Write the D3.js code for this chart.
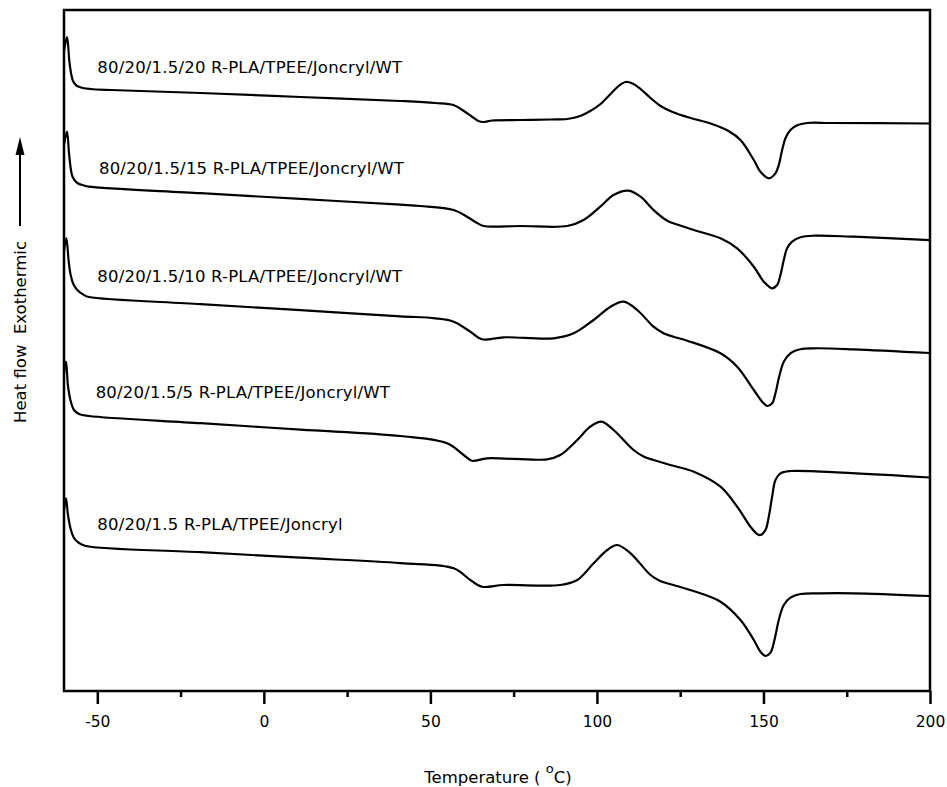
<!DOCTYPE html>
<html><head><meta charset="utf-8">
<script src="https://cdn.jsdelivr.net/npm/d3@7"></script>
<style>body{margin:0;background:#fff}svg{display:block}</style>
</head><body>
<svg id="chart" width="947" height="787"></svg>
<script>
// ---- data (temperature °C, heat flow in arbitrary units, exotherm up) ----
const xTicks = [-50, 0, 50, 100, 150, 200];
const xMinorTicks = [-25, 25, 75, 125, 175];
const xTitle = "Temperature ( ";
const yTitle = "Heat flow\u00A0 Exothermic";

const seriesNames = [
  "80/20/1.5/20 R-PLA/TPEE/Joncryl/WT",
  "80/20/1.5/15 R-PLA/TPEE/Joncryl/WT",
  "80/20/1.5/10 R-PLA/TPEE/Joncryl/WT",
  "80/20/1.5/5 R-PLA/TPEE/Joncryl/WT",
  "80/20/1.5 R-PLA/TPEE/Joncryl"
];
// label anchor [T, heat flow]
const labelPos = [[-50, 61.77], [-49.5, 51.7], [-50, 40.93], [-50.5, 29.3], [-50, 16.1]];

const wt20 = [[-60,64.0],[-59.1,65.4],[-58.4,63.0],[-57.9,61.8],[-57.3,61.0],[-56.3,60.55],[-54.3,60.3],[-52.0,60.2],[-46.0,60.1],[-19.0,59.8],[11.0,59.4],[41.0,59.0],[51.5,58.8],[56.9,58.6],[59.6,58.1],[62.6,57.4],[64.4,57.0],[65.9,56.9],[68.6,57.05],[77.0,57.1],[86.0,57.15],[91.1,57.2],[95.0,57.5],[98.0,58.0],[101.1,58.7],[104.1,59.7],[106.5,60.5],[108.6,60.9],[110.7,60.75],[113.1,60.2],[116.1,59.3],[119.1,58.5],[122.7,57.9],[128.1,57.3],[134.1,56.75],[139.5,56.0],[143.1,55.1],[147.1,53.1],[149.1,51.93],[151.6,51.27],[153.6,51.77],[154.6,52.6],[155.6,54.1],[156.6,55.27],[158.1,56.1],[160.1,56.57],[163.1,56.8],[170.1,56.8],[200,56.75]];

const wt15 = [[-60,54.6],[-59.1,55.93],[-58.5,53.8],[-58.0,52.3],[-57.4,51.4],[-56.0,50.8],[-54.0,50.55],[-52.6,50.43],[-19.0,49.78],[11.0,49.21],[41.0,48.63],[47.0,48.5],[57.0,48.1],[61.0,47.43],[63.8,46.85],[66.0,46.5],[77.0,46.5],[91.1,46.5],[96.0,47.1],[101.0,48.43],[105.0,49.6],[109.5,50.03],[113.1,49.43],[117.0,48.1],[121.1,47.03],[125.0,46.55],[129.1,46.1],[137.1,45.27],[142.1,44.27],[147.1,42.43],[150.1,40.93],[152.6,40.27],[154.1,40.6],[155.1,41.6],[156.1,43.1],[157.1,44.27],[158.6,44.93],[161.1,45.37],[165.1,45.53],[177.1,45.43],[200,45.08]];

const wt10 = [[-60,44.0],[-59.3,45.3],[-58.6,43.0],[-58.0,41.6],[-57.2,40.7],[-56.0,40.1],[-54.0,39.6],[-52.5,39.4],[-19.0,38.69],[11.0,38.08],[41.0,37.47],[51.5,37.27],[57.0,36.93],[62.0,35.93],[65.5,35.17],[72.0,35.37],[87.0,35.27],[93.0,35.77],[99.0,37.1],[104.1,38.43],[108.0,38.93],[112.1,38.1],[117.0,36.43],[120.0,35.77],[123.0,35.43],[127.1,35.03],[137.1,33.77],[142.1,32.43],[147.1,30.1],[149.6,28.93],[151.1,28.5],[152.6,28.77],[153.6,29.77],[154.6,31.27],[156.1,32.93],[158.1,33.77],[161.1,34.17],[165.1,34.27],[177.1,34.17],[200,33.8]];

const wt5 = [[-60,31.7],[-59.4,32.93],[-58.8,30.5],[-58.0,29.0],[-57.0,28.1],[-55.5,27.7],[-52.5,27.5],[-19.0,26.78],[11.0,26.14],[41.0,25.5],[55.0,24.77],[60.0,23.6],[62.5,23.03],[67.0,23.27],[85.0,23.17],[89.0,23.6],[94.1,25.1],[98.0,26.43],[101.4,26.93],[105.0,26.1],[111.0,24.1],[114.0,23.45],[117.0,23.1],[122.0,22.6],[129.1,21.93],[137.1,20.43],[142.1,18.43],[146.1,16.43],[148.1,15.7],[149.1,15.6],[150.6,16.1],[151.6,17.43],[152.6,19.43],[153.6,21.1],[155.1,21.77],[158.1,22.0],[167.1,21.93],[200,21.35]];

const wt0 = [[-60,18.0],[-59.4,19.27],[-58.8,17.6],[-58.0,16.2],[-57.0,15.3],[-55.5,14.8],[-53.5,14.5],[-19.0,13.88],[11.0,13.33],[41.0,12.79],[57.0,12.27],[62.0,11.1],[65.5,10.43],[72.0,10.6],[89.0,10.6],[94.1,11.1],[99.0,12.77],[103.1,14.1],[106.1,14.6],[110.1,13.77],[116.1,11.6],[119.0,11.0],[123.0,10.6],[128.0,10.1],[137.1,8.93],[143.1,7.1],[147.1,5.1],[149.1,3.93],[150.6,3.5],[152.1,3.83],[153.3,5.1],[154.6,7.1],[156.1,8.6],[158.1,9.33],[161.1,9.7],[167.1,9.77],[177.1,9.77],[200,9.5]];

const seriesData = [wt20, wt15, wt10, wt5, wt0];

// ---- layout ----
const svg = d3.select("#chart");
const W = 947, H = 787;
const m = {left: 64, top: 10, right: 17, bottom: 96};
const iw = W - m.left - m.right, ih = H - m.top - m.bottom;

const x = d3.scaleLinear().domain([-60, 200]).range([m.left, m.left + iw]);
const y = d3.scaleLinear().domain([0, 68.1]).range([m.top + ih, m.top]);

const font = "'DejaVu Sans', Verdana, sans-serif";

svg.append("defs").append("clipPath").attr("id", "clip")
  .append("rect").attr("x", m.left).attr("y", m.top).attr("width", iw).attr("height", ih);

// curves
const line = d3.line().x(d => x(d[0])).y(d => y(d[1])).curve(d3.curveCatmullRom.alpha(0.5));
svg.append("g").attr("clip-path", "url(#clip)")
  .selectAll("path").data(seriesData).join("path")
  .attr("d", line).attr("fill", "none").attr("stroke", "#000")
  .attr("stroke-width", 2.2).attr("stroke-linejoin", "round");

// series labels
svg.append("g").selectAll("text").data(seriesNames).join("text")
  .attr("x", (d, i) => x(labelPos[i][0])).attr("y", (d, i) => y(labelPos[i][1]))
  .attr("font-family", font).attr("font-size", 16.5).attr("letter-spacing", 0.2)
  .attr("fill", "#000").text(d => d);

// x axis major
const gx = svg.append("g").attr("transform", `translate(0,${m.top + ih})`)
  .call(d3.axisBottom(x).tickValues(xTicks).tickSize(13).tickPadding(12).tickFormat(d => String(d)));
gx.select(".domain").remove();
gx.selectAll(".tick line").attr("stroke", "#000").attr("stroke-width", 2.5);
gx.selectAll(".tick text").attr("font-family", font).attr("font-size", 15.5).attr("fill", "#000");

// x axis minor
const gm = svg.append("g").attr("transform", `translate(0,${m.top + ih})`)
  .call(d3.axisBottom(x).tickValues(xMinorTicks).tickSize(6).tickFormat(""));
gm.select(".domain").remove();
gm.selectAll(".tick line").attr("stroke", "#000").attr("stroke-width", 2.5);

// frame
svg.append("rect").attr("x", m.left).attr("y", m.top).attr("width", iw).attr("height", ih)
  .attr("fill", "none").attr("stroke", "#000").attr("stroke-width", 2.5);

// x title
const xt = svg.append("text").attr("x", 498).attr("y", 783)
  .attr("text-anchor", "middle").attr("font-family", font).attr("font-size", 16.5).attr("fill", "#000")
  .style("white-space", "pre");
xt.append("tspan").text(xTitle);
xt.append("tspan").attr("dy", -10).attr("font-size", 13).text("o");
xt.append("tspan").attr("dy", 10).text("C)");

// y title
svg.append("text").attr("transform", `translate(26,${332}) rotate(-90)`)
  .attr("text-anchor", "middle").attr("font-family", font).attr("font-size", 16.5).attr("fill", "#000")
  .text(yTitle);

// arrow
svg.append("line").attr("x1", 20).attr("x2", 20).attr("y1", 226).attr("y2", 152)
  .attr("stroke", "#000").attr("stroke-width", 2);
svg.append("path").attr("d", d3.line()([[20, 137], [15.5, 155], [24.5, 155]]) + "Z").attr("fill", "#000");
</script>
</body></html>
